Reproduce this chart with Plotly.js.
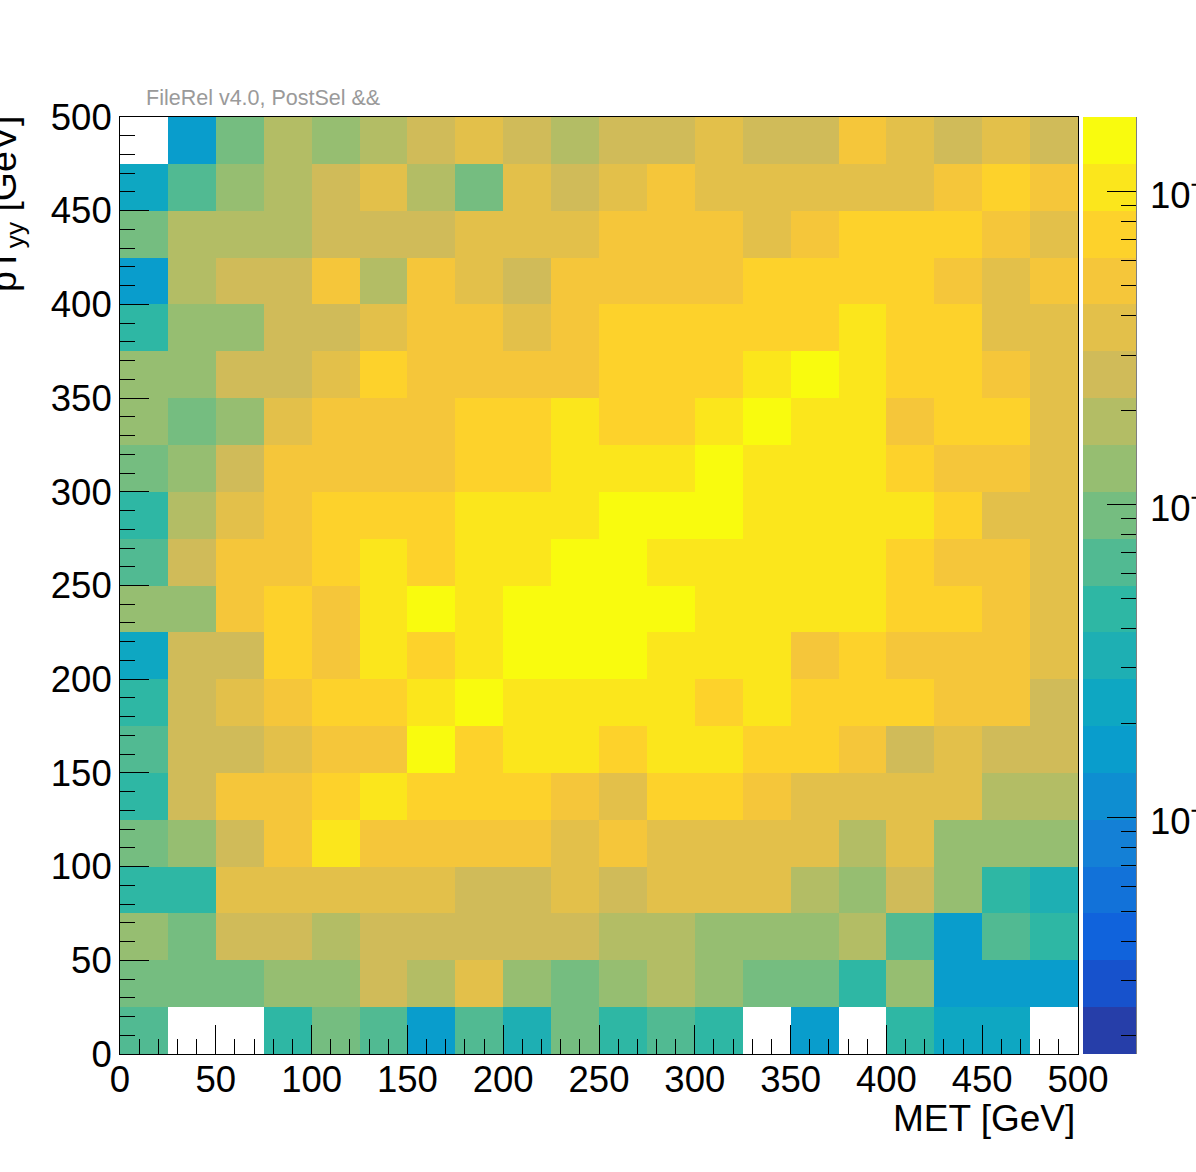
<!DOCTYPE html>
<html><head><meta charset="utf-8">
<script src="https://cdn.plot.ly/plotly-3.0.1.min.js"></script>
<style>html,body{margin:0;padding:0;background:#fff;overflow:hidden}</style>
</head><body><div id="chart" style="width:1196px;height:1172px"></div>
<script>
// Bin edges (GeV)
const metEdges = [0,25,50,75,100,125,150,175,200,225,250,275,300,325,350,375,400,425,450,475,500];
const ptEdges  = [0,25,50,75,100,125,150,175,200,225,250,275,300,325,350,375,400,425,450,475,500];
const axisTickVals = [0,50,100,150,200,250,300,350,400,450,500];
// colour-axis range (log scale)
const zMinValue = 1.75e-5;
const zMaxValue = 1.73e-2;
const colorbarMajorVals = [1e-4, 1e-3, 1e-2];
const colorbarMajorText = ['10<sup>\u22124</sup>','10<sup>\u22123</sup>','10<sup>\u22122</sup>'];
const N = null;
// Bin contents, written from the top row (pT 475-500) down to the bottom row (pT 0-25)
const rowsTopDown = [
 [N,1.65e-4,9.24e-4,1.84e-3,1.31e-3,1.84e-3,2.60e-3,3.67e-3,2.60e-3,1.84e-3,2.60e-3,2.60e-3,3.67e-3,2.60e-3,2.60e-3,5.19e-3,3.67e-3,2.60e-3,3.67e-3,2.60e-3],
 [2.33e-4,6.55e-4,1.31e-3,1.84e-3,2.60e-3,3.67e-3,1.84e-3,9.24e-4,3.67e-3,2.60e-3,3.67e-3,5.19e-3,3.67e-3,3.67e-3,3.67e-3,3.67e-3,3.67e-3,5.19e-3,7.32e-3,5.19e-3],
 [9.24e-4,1.84e-3,1.84e-3,1.84e-3,2.60e-3,2.60e-3,2.60e-3,3.67e-3,3.67e-3,3.67e-3,5.19e-3,5.19e-3,5.19e-3,3.67e-3,5.19e-3,7.32e-3,7.32e-3,7.32e-3,5.19e-3,3.67e-3],
 [1.65e-4,1.84e-3,2.60e-3,2.60e-3,5.19e-3,1.84e-3,5.19e-3,3.67e-3,2.60e-3,5.19e-3,5.19e-3,5.19e-3,5.19e-3,7.32e-3,7.32e-3,7.32e-3,7.32e-3,5.19e-3,3.67e-3,5.19e-3],
 [4.64e-4,1.31e-3,1.31e-3,2.60e-3,2.60e-3,3.67e-3,5.19e-3,5.19e-3,3.67e-3,5.19e-3,7.32e-3,7.32e-3,7.32e-3,7.32e-3,7.32e-3,1.03e-2,7.32e-3,7.32e-3,3.67e-3,3.67e-3],
 [1.31e-3,1.31e-3,2.60e-3,2.60e-3,3.67e-3,7.32e-3,5.19e-3,5.19e-3,5.19e-3,5.19e-3,7.32e-3,7.32e-3,7.32e-3,1.03e-2,1.46e-2,1.03e-2,7.32e-3,7.32e-3,5.19e-3,3.67e-3],
 [1.31e-3,9.24e-4,1.31e-3,3.67e-3,5.19e-3,5.19e-3,5.19e-3,7.32e-3,7.32e-3,1.03e-2,7.32e-3,7.32e-3,1.03e-2,1.46e-2,1.03e-2,1.03e-2,5.19e-3,7.32e-3,7.32e-3,3.67e-3],
 [9.24e-4,1.31e-3,2.60e-3,5.19e-3,5.19e-3,5.19e-3,5.19e-3,7.32e-3,7.32e-3,1.03e-2,1.03e-2,1.03e-2,1.46e-2,1.03e-2,1.03e-2,1.03e-2,7.32e-3,5.19e-3,5.19e-3,3.67e-3],
 [4.64e-4,1.84e-3,3.67e-3,5.19e-3,7.32e-3,7.32e-3,7.32e-3,1.03e-2,1.03e-2,1.03e-2,1.46e-2,1.46e-2,1.46e-2,1.03e-2,1.03e-2,1.03e-2,1.03e-2,7.32e-3,3.67e-3,3.67e-3],
 [6.55e-4,2.60e-3,5.19e-3,5.19e-3,7.32e-3,1.03e-2,7.32e-3,1.03e-2,1.03e-2,1.46e-2,1.46e-2,1.03e-2,1.03e-2,1.03e-2,1.03e-2,1.03e-2,7.32e-3,5.19e-3,5.19e-3,3.67e-3],
 [1.31e-3,1.31e-3,5.19e-3,7.32e-3,5.19e-3,1.03e-2,1.46e-2,1.03e-2,1.46e-2,1.46e-2,1.46e-2,1.46e-2,1.03e-2,1.03e-2,1.03e-2,1.03e-2,7.32e-3,7.32e-3,5.19e-3,3.67e-3],
 [2.33e-4,2.60e-3,2.60e-3,7.32e-3,5.19e-3,1.03e-2,7.32e-3,1.03e-2,1.46e-2,1.46e-2,1.46e-2,1.03e-2,1.03e-2,1.03e-2,5.19e-3,7.32e-3,5.19e-3,5.19e-3,5.19e-3,3.67e-3],
 [4.64e-4,2.60e-3,3.67e-3,5.19e-3,7.32e-3,7.32e-3,1.03e-2,1.46e-2,1.03e-2,1.03e-2,1.03e-2,1.03e-2,7.32e-3,1.03e-2,7.32e-3,7.32e-3,7.32e-3,5.19e-3,5.19e-3,2.60e-3],
 [6.55e-4,2.60e-3,2.60e-3,3.67e-3,5.19e-3,5.19e-3,1.46e-2,7.32e-3,1.03e-2,1.03e-2,7.32e-3,1.03e-2,1.03e-2,7.32e-3,7.32e-3,5.19e-3,2.60e-3,3.67e-3,2.60e-3,2.60e-3],
 [4.64e-4,2.60e-3,5.19e-3,5.19e-3,7.32e-3,1.03e-2,7.32e-3,7.32e-3,7.32e-3,5.19e-3,3.67e-3,7.32e-3,7.32e-3,5.19e-3,3.67e-3,3.67e-3,3.67e-3,3.67e-3,1.84e-3,1.84e-3],
 [9.24e-4,1.31e-3,2.60e-3,5.19e-3,1.03e-2,5.19e-3,5.19e-3,5.19e-3,5.19e-3,3.67e-3,5.19e-3,3.67e-3,3.67e-3,3.67e-3,3.67e-3,1.84e-3,3.67e-3,1.31e-3,1.31e-3,1.31e-3],
 [4.64e-4,4.64e-4,3.67e-3,3.67e-3,3.67e-3,3.67e-3,3.67e-3,2.60e-3,2.60e-3,3.67e-3,2.60e-3,3.67e-3,3.67e-3,3.67e-3,1.84e-3,1.31e-3,2.60e-3,1.31e-3,4.64e-4,3.29e-4],
 [1.31e-3,9.24e-4,2.60e-3,2.60e-3,1.84e-3,2.60e-3,2.60e-3,2.60e-3,2.60e-3,2.60e-3,1.84e-3,1.84e-3,1.31e-3,1.31e-3,1.31e-3,1.84e-3,6.55e-4,1.65e-4,6.55e-4,4.64e-4],
 [9.24e-4,9.24e-4,9.24e-4,1.31e-3,1.31e-3,2.60e-3,1.84e-3,3.67e-3,1.31e-3,9.24e-4,1.31e-3,1.84e-3,1.31e-3,9.24e-4,9.24e-4,4.64e-4,1.31e-3,1.65e-4,1.65e-4,1.65e-4],
 [6.55e-4,N,N,4.64e-4,9.24e-4,6.55e-4,1.65e-4,6.55e-4,3.29e-4,9.24e-4,4.64e-4,6.55e-4,4.64e-4,N,1.65e-4,N,4.64e-4,2.33e-4,2.33e-4,N]
];

// ---- ROOT kBird palette, 20 contour levels ----
const birdStops = [0,0.125,0.25,0.375,0.5,0.625,0.75,0.875,1];
const birdR = [0.2082,0.0592,0.0780,0.0232,0.1802,0.5301,0.8186,0.9956,0.9764];
const birdG = [0.1664,0.3599,0.5041,0.6419,0.7178,0.7492,0.7328,0.7862,0.9832];
const birdB = [0.5293,0.8684,0.8385,0.7914,0.6425,0.4662,0.3499,0.1968,0.0539];
function bird(t){
  t = Math.max(0, Math.min(1, t));
  let k = 0; while (k < birdStops.length-2 && t > birdStops[k+1]) k++;
  const f = (t - birdStops[k])/(birdStops[k+1]-birdStops[k]);
  const c = a => Math.round(255*(a[k] + f*(a[k+1]-a[k])));
  return 'rgb(' + c(birdR) + ',' + c(birdG) + ',' + c(birdB) + ')';
}
const nLevels = 20;
const colorscale = [];
for (let i = 0; i < nLevels; i++) {
  const col = bird((i + 0.99)/nLevels);
  colorscale.push([i/nLevels, col]);
  colorscale.push([(i+1)/nLevels, col]);
}

const zLog = rowsTopDown.slice().reverse().map(r => r.map(v => (v === null || v <= 0) ? null : Math.log10(v)));
const zmin = Math.log10(zMinValue), zmax = Math.log10(zMaxValue);

const minorCb = [];
for (let e = -5; e <= -1; e++) for (let m = 2; m <= 9; m++) {
  const v = Math.log10(m) + e;
  if (v > zmin && v < zmax) minorCb.push(v);
}

const W = 1196, H = 1172;
const mL = 120, mR = 118, mT = 117, mB = 118;
const plotW = W - mL - mR, plotH = H - mT - mB;
const cbLeftPx = 1083, cbThick = 53;
const cbX = (cbLeftPx - mL)/plotW;
const cbRightX = cbX + cbThick/plotW;

const FONT = 'Liberation Sans, Arial, Helvetica, sans-serif';

const cbCommon = {
  x: cbX, xanchor: 'left', xpad: 0, ypad: 0,
  y: 0.5, yanchor: 'middle', len: 1, lenmode: 'fraction',
  thickness: cbThick, thicknessmode: 'pixels',
  outlinewidth: 0, borderwidth: 0,
  ticks: 'inside', tickcolor: '#000', tickwidth: 1,
  tickmode: 'array', showticklabels: false
};

const heat = {
  type: 'heatmap',
  x: metEdges, y: ptEdges, z: zLog,
  zmin: zmin, zmax: zmax, zauto: false,
  colorscale: colorscale,
  hoverongaps: false,
  colorbar: Object.assign({}, cbCommon, {
    tickvals: colorbarMajorVals.map(v => Math.log10(v)),
    ticklen: 29
  })
};

// invisible helper trace that only carries the minor-tick colour bar
const minorBar = {
  type: 'scatter', mode: 'markers',
  x: [null], y: [null],
  hoverinfo: 'skip',
  marker: {
    color: [zmin], cmin: zmin, cmax: zmax, showscale: true,
    colorscale: [[0,'rgba(0,0,0,0)'],[1,'rgba(0,0,0,0)']],
    colorbar: Object.assign({}, cbCommon, {tickvals: minorCb, ticklen: 15})
  }
};

const axisCommon = {
  range: [0, 500], autorange: false,
  tickmode: 'array', tickvals: axisTickVals,
  ticks: 'inside', ticklen: 29, tickwidth: 1, tickcolor: '#000',
  minor: {dtick: 10, tick0: 0, ticks: 'inside', ticklen: 15, tickwidth: 1, tickcolor: '#000', showgrid: false},
  showline: true, linecolor: '#000', linewidth: 1, mirror: true,
  showgrid: false, zeroline: false,
  tickfont: {family: FONT, size: 36.5, color: '#000'}
};

const annotations = [
  {text: 'FileRel v4.0, PostSel &&', xref: 'paper', yref: 'paper',
   x: (144 - mL)/plotW, y: 1 + (mT - 98)/plotH, xanchor: 'left', yanchor: 'middle',
   showarrow: false, font: {family: FONT, size: 21.5, color: '#9a9a9a'}},
  {text: 'MET [GeV]', xref: 'paper', yref: 'paper',
   x: (1077 - mL)/plotW, y: -(1118 - (H - mB))/plotH, xanchor: 'right', yanchor: 'middle',
   showarrow: false, font: {family: FONT, size: 37, color: '#000'}},
  {text: 'pT<sub>yy</sub> [GeV]', xref: 'paper', yref: 'paper', textangle: -90,
   x: (6 - mL)/plotW, y: 1, xanchor: 'center', yanchor: 'top', yshift: 3,
   showarrow: false, font: {family: FONT, size: 37.5, color: '#000'}}
];
colorbarMajorVals.forEach((v, i) => {
  annotations.push({
    text: colorbarMajorText[i], xref: 'paper', yref: 'paper',
    x: (1148 - mL)/plotW, y: (Math.log10(v) - zmin)/(zmax - zmin),
    xanchor: 'left', yanchor: 'middle', yshift: -2,
    showarrow: false, font: {family: FONT, size: 36.5, color: '#000'}
  });
});

const layout = {
  width: W, height: H,
  margin: {l: mL, r: mR, t: mT, b: mB, pad: 0},
  paper_bgcolor: '#fff', plot_bgcolor: '#fff',
  showlegend: false,
  xaxis: Object.assign({}, axisCommon, {ticklabelstandoff: -7}),
  yaxis: Object.assign({}, axisCommon),
  shapes: [
    {type: 'line', xref: 'paper', yref: 'paper', x0: cbRightX, x1: cbRightX, y0: 0, y1: 1,
     line: {color: '#000', width: 1}}
  ],
  annotations: annotations
};

Plotly.newPlot('chart', [heat, minorBar], layout, {staticPlot: true, displayModeBar: false});
</script>
</body></html>
